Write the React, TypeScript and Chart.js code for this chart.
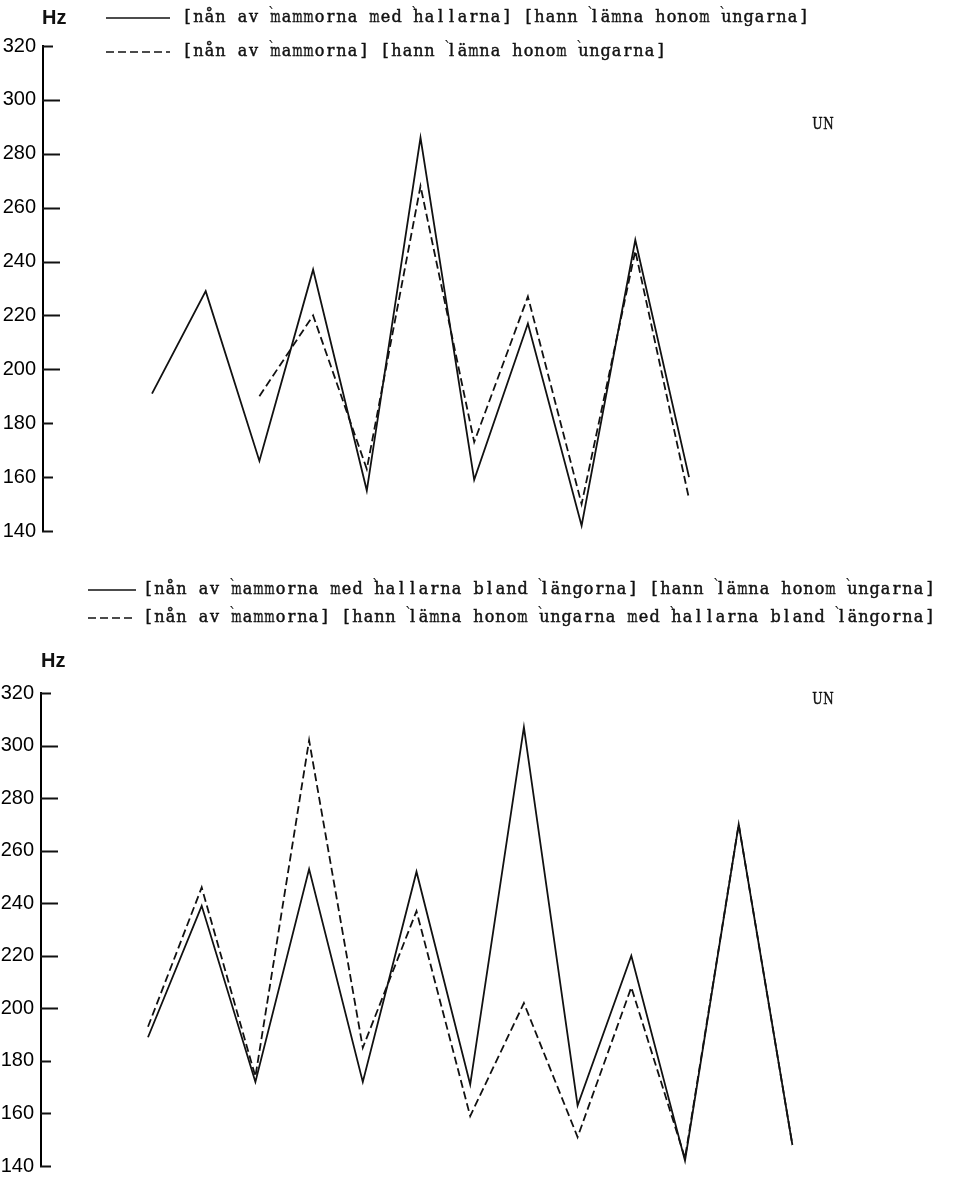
import React, { useEffect, useRef } from "react";
import { Chart, registerables } from "chart.js";

Chart.register(...registerables);

// F0 contours (Hz), one value per syllable turning point
const topSolid = [191, 229, 166, 237, 155, 286, 159, 217, 142, 248, 160];
const topDashedStart = 2;
const topDashed = [190, 220, 163, 268, 173, 227, 150, 244, 152];

const bottomSolid = [189, 239, 172, 253, 172, 252, 171, 307, 163, 220, 142, 270, 148];
const bottomDashedStart = 0;
const bottomDashed = [193, 246, 174, 302, 185, 237, 159, 202, 151, 208, 143, 270, 148];

const yTicks = [140, 160, 180, 200, 220, 240, 260, 280, 300, 320];
const longTicks = [200, 220, 240, 260, 280, 300];

const topLegend = [
  "[nån av ˋmammorna med ˋhallarna] [hann ˋlämna honom ˋungarna]",
  "[nån av ˋmammorna] [hann ˋlämna honom ˋungarna]",
];
const bottomLegend = [
  "[nån av ˋmammorna med ˋhallarna bland ˋlängorna] [hann ˋlämna honom ˋungarna]",
  "[nån av ˋmammorna] [hann ˋlämna honom ˋungarna med ˋhallarna bland ˋlängorna]",
];

const unitLabel = "Hz";
const cornerLabel = "UN";
const ACCENT = "ˋ";

const INK = "#111";
const DASH = [8, 4];
const TYPE_FONT = "16px 'DejaVu Serif'";
const TYPE_PITCH = 11;
const TICK_FONT = "'Liberation Sans'";

type Layout = {
  axisWidth: number;
  pad: { top: number; bottom: number; left: number; right: number };
  xMin: number;
  xMax: number;
  legendY: number[];
  sampleX: [number, number];
  textX: number;
  hz: [number, number];
  un: [number, number];
};

// fixed-pitch "typewriter" text: every character gets one cell, wide glyphs
// are squeezed into it, and the accent mark is struck over the next letter
function drawTyped(ctx: CanvasRenderingContext2D, text: string, x: number, y: number) {
  ctx.save();
  ctx.font = TYPE_FONT;
  ctx.textAlign = "center";
  ctx.textBaseline = "middle";
  ctx.lineWidth = 0.45;
  let cell = 0;
  let pendingAccent = false;
  for (const ch of Array.from(text)) {
    if (ch === ACCENT) {
      pendingAccent = true;
      continue;
    }
    const cx = x + TYPE_PITCH * (cell + 0.5);
    if (pendingAccent) {
      ctx.fillText(ACCENT, cx - TYPE_PITCH * 0.35, y - 3);
      pendingAccent = false;
    }
    const w = ctx.measureText(ch).width;
    const limit = TYPE_PITCH - 0.6;
    ctx.save();
    ctx.translate(cx, y);
    if (w > limit) ctx.scale(limit / w, 1);
    ctx.fillText(ch, 0, 0);
    ctx.strokeText(ch, 0, 0);
    ctx.restore();
    cell += 1;
  }
  ctx.restore();
}

const decor = {
  id: "decor",
  afterDraw(chart: any) {
    const ctx = chart.ctx as CanvasRenderingContext2D;
    const lay: Layout = chart.options.plugins.decor;
    const y = chart.scales.y;
    ctx.save();
    ctx.strokeStyle = INK;
    ctx.fillStyle = INK;

    // inward tick marks on the frequency axis
    ctx.lineWidth = 2;
    for (const v of yTicks) {
      const py = Math.round(y.getPixelForValue(v)) + 0.5;
      const len = longTicks.includes(v) ? 17 : 10;
      ctx.beginPath();
      ctx.moveTo(y.right - 1, py);
      ctx.lineTo(y.right + len, py);
      ctx.stroke();
    }

    // unit label above the axis
    ctx.font = `bold 20px ${TICK_FONT}`;
    ctx.textAlign = "left";
    ctx.textBaseline = "middle";
    ctx.fillText(unitLabel, lay.hz[0], lay.hz[1]);

    // legend rows: line sample + utterance text
    chart.data.datasets.forEach((ds: any, i: number) => {
      const ly = lay.legendY[i];
      ctx.lineWidth = 1.6;
      ctx.setLineDash(ds.borderDash || []);
      ctx.beginPath();
      ctx.moveTo(lay.sampleX[0], ly);
      ctx.lineTo(lay.sampleX[1], ly);
      ctx.stroke();
      ctx.setLineDash([]);
      drawTyped(ctx, ds.label, lay.textX, ly);
    });

    drawTyped(ctx, cornerLabel, lay.un[0], lay.un[1]);
    ctx.restore();
  },
};

function makeConfig(
  solid: number[],
  dashed: number[],
  dashedStart: number,
  legend: string[],
  lay: Layout
): any {
  return {
    type: "line",
    data: {
      datasets: [
        {
          label: legend[0],
          data: solid.map((v, i) => ({ x: i, y: v })),
          borderColor: INK,
          borderWidth: 1.8,
          pointRadius: 0,
          tension: 0,
          fill: false,
        },
        {
          label: legend[1],
          data: dashed.map((v, i) => ({ x: i + dashedStart, y: v })),
          borderColor: INK,
          borderWidth: 1.8,
          borderDash: DASH,
          pointRadius: 0,
          tension: 0,
          fill: false,
        },
      ],
    },
    options: {
      animation: false,
      responsive: false,
      maintainAspectRatio: false,
      layout: { padding: lay.pad },
      plugins: {
        legend: { display: false },
        tooltip: { enabled: false },
        decor: lay,
      },
      scales: {
        x: { type: "linear", min: lay.xMin, max: lay.xMax, display: false },
        y: {
          min: 140,
          max: 320,
          afterFit: (s: any) => {
            s.width = lay.axisWidth;
          },
          afterBuildTicks: (s: any) => {
            s.ticks = yTicks.map((v) => ({ value: v }));
          },
          ticks: {
            color: "#000",
            font: { family: TICK_FONT, size: 20 },
            padding: 7,
          },
          grid: { drawOnChartArea: false, drawTicks: false },
          border: { display: true, color: "#000", width: 2 },
        },
      },
    },
    plugins: [decor],
  };
}

const SPACING = 53.7;

const topLayout: Layout = {
  axisWidth: 43,
  pad: { top: 46, bottom: 34, left: 0, right: 15 },
  xMin: -(152 - 43) / SPACING,
  xMax: -(152 - 43) / SPACING + (955 - 15 - 43) / SPACING,
  legendY: [18, 52],
  sampleX: [106, 170],
  textX: 182,
  hz: [42, 18],
  un: [812, 125],
};

const bottomLayout: Layout = {
  axisWidth: 41,
  pad: { top: 128, bottom: 12, left: 0, right: 15 },
  xMin: -(148 - 41) / SPACING,
  xMax: -(148 - 41) / SPACING + (955 - 15 - 41) / SPACING,
  legendY: [25, 53],
  sampleX: [88, 136],
  textX: 143,
  hz: [41, 96],
  un: [812, 135],
};

function ContourChart(props: {
  solid: number[];
  dashed: number[];
  dashedStart: number;
  legend: string[];
  layout: Layout;
  height: number;
}) {
  const ref = useRef<HTMLCanvasElement>(null);
  useEffect(() => {
    if (!ref.current) return;
    const chart = new Chart(
      ref.current,
      makeConfig(props.solid, props.dashed, props.dashedStart, props.legend, props.layout)
    );
    return () => chart.destroy();
  }, []);
  return (
    <canvas
      ref={ref}
      width={955}
      height={props.height}
      style={{ display: "block", width: 955, height: props.height }}
    />
  );
}

export default function App() {
  return (
    <div
      style={{
        position: "absolute",
        left: 0,
        top: 0,
        width: 955,
        height: 1185,
        background: "#fff",
      }}
    >
      <ContourChart
        solid={topSolid}
        dashed={topDashed}
        dashedStart={topDashedStart}
        legend={topLegend}
        layout={topLayout}
        height={565}
      />
      <ContourChart
        solid={bottomSolid}
        dashed={bottomDashed}
        dashedStart={bottomDashedStart}
        legend={bottomLegend}
        layout={bottomLayout}
        height={620}
      />
    </div>
  );
}
